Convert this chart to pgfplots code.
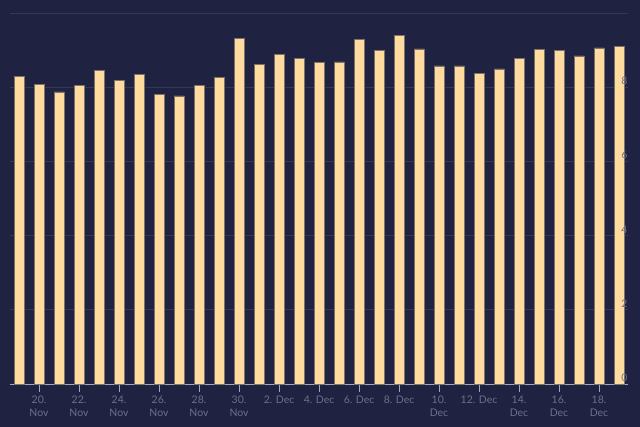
\documentclass[border=0pt]{standalone}
\usepackage{pgfplots}
\pgfplotsset{compat=1.18}
\usepackage{fontspec}
\setmainfont{Lato}
\definecolor{bg}{RGB}{31,34,64}
\definecolor{barc}{RGB}{255,219,160}
\definecolor{baredge}{RGB}{125,115,105}
\definecolor{gridc}{RGB}{52,56,84}
\definecolor{axisc}{RGB}{160,166,200}
\definecolor{labc}{RGB}{110,113,140}
\pgfplotsset{
  base/.style={
    at={(10bp,43bp)}, anchor=south west,
    scale only axis, width=618bp, height=384bp,
    xmin=-0.45, xmax=30.45, ymin=0, ymax=10.36,
    /pgf/number format/assume math mode=true,
    clip=false,
  }
}
\begin{document}
\begin{tikzpicture}
\path[use as bounding box, fill=bg] (0,0) rectangle (640bp,427bp);
\begin{axis}[
  base,
  axis x line*=bottom, axis y line*=right,
  x axis line style={draw=axisc, line width=0.8bp},
  y axis line style={draw=none},
  xtick={1,3,5,7,9,11,13,15,17,19,21,23,25,27,29},
  xticklabels={{20.\\Nov},{22.\\Nov},{24.\\Nov},{26.\\Nov},{28.\\Nov},{30.\\Nov},{2. Dec},{4. Dec},{6. Dec},{8. Dec},{10.\\Dec},{12. Dec},{14.\\Dec},{16.\\Dec},{18.\\Dec}},
  xtick style={draw=axisc, line width=0.8bp},
  major tick length=8bp,
  xtick align=outside,
  xticklabel style={align=center, font=\fontsize{10.5}{13.7}\selectfont, text=labc},
  ytick={0,2,4,6,8,10},
  yticklabels={},
  ytick style={draw=none},
  ymajorgrids,
  major grid style={draw=gridc, line width=0.8bp},
]
\addplot[ybar, bar width=10bp, fill=barc, draw=baredge, line width=0.6bp] coordinates {
(0,8.29) (1,8.08) (2,7.88) (3,8.05) (4,8.45) (5,8.18) (6,8.35) (7,7.81) (8,7.77) (9,8.05)
(10,8.28) (11,9.32) (12,8.62) (13,8.90) (14,8.79) (15,8.68) (16,8.69) (17,9.29) (18,8.99) (19,9.41)
(20,9.04) (21,8.58) (22,8.58) (23,8.38) (24,8.50) (25,8.79) (26,9.02) (27,8.99) (28,8.85) (29,9.07)
(30,9.10)
};
\end{axis}
\begin{axis}[
  base,
  axis x line=none,
  axis y line*=right,
  y axis line style={draw=none},
  ytick={0,2,4,6,8},
  ytick style={draw=none},
  yticklabel pos=right,
  yticklabel style={anchor=south east, font=\fontsize{10.5}{12}\selectfont, text=labc, xshift=3bp, yshift=-1bp},
]
\end{axis}
\end{tikzpicture}
\end{document}
